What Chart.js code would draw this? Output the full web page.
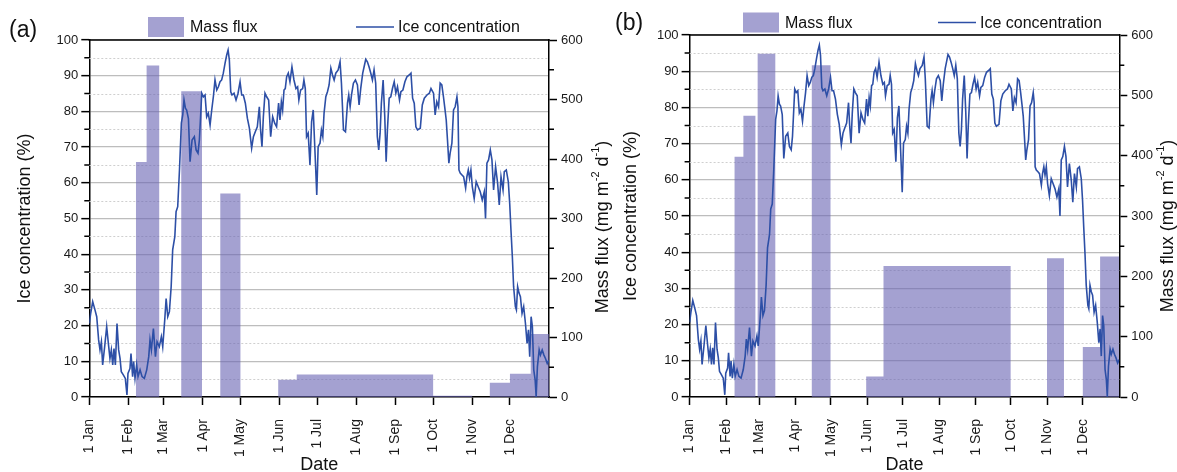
<!DOCTYPE html>
<html>
<head>
<meta charset="utf-8">
<script src="https://cdn.jsdelivr.net/npm/chart.js@4.4.0/dist/chart.umd.min.js"></script>
<style>
  html, body { margin: 0; padding: 0; background: #fff; }
  #wrap { position: relative; width: 1177px; height: 472px; overflow: hidden; background: #fff; }
  canvas { position: absolute; top: 0; }
  #chartA { left: 0; }
  #chartB { left: 600px; }
</style>
</head>
<body>
<div id="wrap">
  <canvas id="chartA" width="614" height="472"></canvas>
  <canvas id="chartB" width="577" height="472"></canvas>
</div>
<script>
// x axis is day of year, 0 = 1 Jan, 365 = end of Dec
const monthDays = [0, 31, 59, 90, 120, 151, 181, 212, 243, 273, 304, 334];
const monthLabels = ['1 Jan', '1 Feb', '1 Mar', '1 Apr', '1 May', '1 Jun',
  '1 Jul', '1 Aug', '1 Sep', '1 Oct', '1 Nov', '1 Dec'];
const iceMinor = [5, 15, 25, 35, 45, 55, 65, 75, 85, 95];
const fluxMinor = [50, 150, 250, 350, 450, 550];

// ice concentration (%) (same curve in both panels)
const iceDay = [0, 1.1, 2.7, 4.5, 5.9, 7.4, 8.5, 9.6, 10.6, 12.2, 13.8, 15.4, 16.4, 17.5, 18.6, 19.6, 20.7,
  22, 23.3, 24.4, 25.4, 27, 28.6, 29.9, 30.7, 32.3, 33.1, 34.4, 35.2, 36.3, 37.6, 38.7, 40.3, 41.9,
  43.7, 45.6, 47.2, 48.2, 49.3, 50.9, 52.5, 53.8, 55.6, 57.2, 58.3, 59.9, 61, 62.3, 63.6, 65, 66.2,
  67.9, 68.9, 70.2, 71.6, 73.1, 74.2, 75.2, 76.3, 77.3, 78.7, 80, 81.6, 83.4, 84.8, 86.3, 87.4,
  89.3, 90.6, 91.9, 93.2, 94.5, 95.9, 97.2, 98.5, 99.8, 101.2, 102.5, 103.8, 105.1, 106.4, 107.8,
  109.1, 110.2, 111.2, 112.3, 113.3, 114.9, 116.5, 118.1, 119.7, 121, 122.3, 123.9, 125.5, 127.1,
  128.9, 130.3, 131.8, 133.4, 135, 136, 137.1, 138.2, 139.5, 140.8, 142.4, 144, 145.6, 147.2, 148.7,
  150.3, 151.4, 152.5, 153.5, 154.6, 155.6, 156.7, 158, 159.3, 160.9, 162.5, 164.1, 165.4, 166.4,
  167.8, 169.4, 170.4, 171.5, 172.5, 173.8, 175.2, 176.5, 177.8,
  179.8, 180.6, 181.7, 183.2, 184.3, 185.4, 186.4, 187.8, 189.1, 190.4, 191.8, 193.1, 194.4, 195.7,
  197.6, 199.1, 200.2, 201.8, 203.4, 205, 206, 207.1, 208.2, 209.7, 211.3, 212.9, 214.2, 215.5,
  217.1, 218.2, 219.5, 220.8, 222.1, 223.5, 224.8, 226.1, 227.4, 228.7, 229.8, 230.9, 231.9, 233.3,
  234.6, 235.7, 236.7, 238.1, 239.4, 240.7, 242.1, 243.4, 244.7, 246.3, 247.4, 249, 250.6, 252.2,
  254, 255.4, 256.7, 258, 259.3, 260.6, 262.8, 264.4, 266, 268.1, 270, 271.3,
  273.3, 274.6, 275.9, 277.3, 278.6, 279.9, 281.2, 282.3, 283.4, 284.4, 285.5, 286.5, 287.9, 289.2,
  290.5, 291.9, 292.7, 293.5, 294.5, 295.9, 297.2, 298.8, 299.8, 300.9, 301.9, 303, 304.1, 305.6,
  307.2, 308.8, 310.4, 312, 313.6, 314.6, 315.7, 317, 318.4, 319.7, 321, 322.6, 324.2, 325.5, 326.9,
  328.5, 329.5, 331.1, 332.7, 333.8, 334.8, 335.9, 336.9, 338.3, 339.1, 340.1, 341.2, 342.3, 343.6,
  344.9, 346.3, 347.6, 348.7, 349.7, 350.8, 351.8, 352.9, 354, 354.8, 355.8, 357.2, 358.2, 359.6,
  360.9, 362.2, 363.6, 364.9];
const iceConc = [20.6, 23.4, 26.7, 24.4, 22.5, 16, 13.2, 15.5, 9, 14.1, 19.7, 14.1, 10.8, 13.2, 9, 13.6, 9,
  20.6, 13.2, 10.8, 7.1, 6.2, 5.2, 0.6, 6.6, 8, 12.2, 5.7, 9.9, 5.2, 9, 5.7, 7.6, 5.7,
  5.2, 7.6, 11.3, 16, 13.2, 19.2, 11.3, 15.5, 14.1, 16.9, 14.1, 21.6, 27.6, 22.5, 23.9, 30.9, 41.2,
  44.9, 51.9, 53.3, 63.6, 76.7, 79, 83.2, 80.9, 80.4, 78, 65.9, 72, 72.9, 69.2, 68.3, 72,
  85.1, 84.1, 84.6, 78.5, 79.5, 76.2, 80.4, 84.1, 88.8, 86, 86.9, 88.3, 88.8, 90.7, 93.5,
  95.8, 97.2, 94.4, 85.5, 84.6, 85.1, 83.2, 85.1, 88.3, 84.6, 84.6, 82.3, 78.1, 75.3,
  69.7, 72.9, 74.3, 75.7, 81.3, 74.8, 70.1, 78.5, 85.1, 84.1, 83.2, 72.9, 78.5, 76.7, 75.7,
  82.3, 77.6, 82.7, 80.4, 86, 86.4, 89.7, 90.7, 88.3, 92.5, 88.8, 86.4, 86.9, 83.2,
  86, 86.4, 88.8, 86.4, 72.9, 73.9, 65, 77.1, 80.4,
  63.6, 56.6, 70.1, 71.1, 74.8, 72.9, 79.5, 84.1, 85.5, 87.4, 92.1, 90.2, 88.8, 90.7,
  91.6, 93.9, 87.9, 74.8, 74.3, 82.3, 84.6, 81.3, 84.6, 87.9, 88.8, 87.4, 81.8, 86.4,
  90.7, 92.5, 94.6, 93.9, 92.5, 90.7, 88.8, 91.6, 87.9, 72.9, 69.2, 73.9, 82.3, 88.8,
  78.5, 65.9, 74.8, 83.7, 84.1, 86.4, 88.3, 85.1, 86.9, 83.2, 85.5, 86, 88.3, 89.7,
  90.2, 90.7, 83.7, 82.3, 75.7, 74.8, 75.3, 81.8, 83.7, 84.6, 85.1, 86.4,
  85.1, 79, 82.7, 81.3, 87.9, 87.4, 84.1, 80.9, 77.6, 72, 65.5, 68.3, 71.1, 80.4,
  81.3, 84.1, 81.3, 63.6, 62.7, 62.2, 61.7, 58.5, 61.7, 63.6, 61.3, 63.6, 58.9, 55.6,
  60.3, 58.9, 57.5, 55.2, 57.5, 50, 65.5, 66.4, 69.2, 66.4, 58, 64.5, 59.9, 53.8, 61.7,
  58, 63.1, 63.6, 60.3, 54.2, 46.8, 39.3, 30.9, 25.3, 24.4, 30.9, 29.1, 28.1, 23.4,
  25.3, 20.6, 15, 18.8, 11.3, 22.5, 19.7, 7.6, 4.8, 0.1, 8.5, 13.2, 11.8, 13.2,
  11.8, 10.8, 9.4, 10.3];

// mass flux (mg m-2 d-1) per trap interval, panel (a)
const fluxStartA = [37, 45.5, 73, 104, 150, 164.7, 273, 318, 334, 350.5];
const fluxEndA = [45.5, 55.5, 89.5, 120, 164.7, 273, 304, 334, 350.5, 365];
const fluxA = [395, 557, 514, 342, 29, 38, 2, 24, 39, 106];

// panel (b)
const fluxStartB = [38, 45.7, 57.8, 103.8, 150, 164.7, 303.6, 334, 348.7];
const fluxEndB = [45.7, 55.9, 72.8, 119.7, 164.7, 272.7, 318, 348.7, 365];
const fluxB = [398, 466, 569, 550, 34, 217, 230, 83, 233];

const FONT = '"Liberation Sans", Arial, Helvetica, sans-serif';
const barColor = 'rgba(103, 98, 178, 0.6)';
const lineColor = '#2d4fa6';

Chart.defaults.font.family = FONT;
Chart.defaults.color = '#1a1a1a';

// each interval becomes a closed rectangle in a filled line
function fluxPoints(starts, ends, values) {
  const pts = [];
  starts.forEach((s, i) => {
    pts.push({ x: s, y: 0 }, { x: s, y: values[i] }, { x: ends[i], y: values[i] }, { x: ends[i], y: 0 });
  });
  return pts;
}

function drawRightTitle(ctx, cx, cy) {
  const parts = [['Mass flux (mg m', 18, 0], ['-2', 11, -7], [' d', 18, 0], ['-1', 11, -7], [')', 18, 0]];
  ctx.save();
  ctx.translate(cx, cy);
  ctx.rotate(-Math.PI / 2);
  ctx.textBaseline = 'middle';
  ctx.fillStyle = '#111';
  let total = 0;
  parts.forEach(p => { ctx.font = p[1] + 'px ' + FONT; total += ctx.measureText(p[0]).width; });
  let x = -total / 2;
  parts.forEach(p => {
    ctx.font = p[1] + 'px ' + FONT;
    ctx.fillText(p[0], x, p[2]);
    x += ctx.measureText(p[0]).width;
  });
  ctx.restore();
}

// minor grid/ticks, top frame, right title, legend and panel letter
function decorPlugin(p) {
  return {
    id: 'decor',
    beforeDatasetsDraw(chart) {
      const { ctx, chartArea: a, scales } = chart;
      ctx.save();
      ctx.strokeStyle = '#cfcfcf';
      ctx.lineWidth = 1;
      ctx.setLineDash([2, 2]);
      iceMinor.forEach(v => {
        const py = Math.round(scales.y.getPixelForValue(v)) + 0.5;
        ctx.beginPath();
        ctx.moveTo(a.left, py);
        ctx.lineTo(a.right, py);
        ctx.stroke();
      });
      ctx.restore();
    },
    afterDraw(chart) {
      const { ctx, chartArea: a, scales } = chart;
      ctx.save();
      ctx.strokeStyle = '#000';
      ctx.lineWidth = 1.5;
      ctx.beginPath();
      iceMinor.forEach(v => {
        const py = scales.y.getPixelForValue(v);
        ctx.moveTo(a.left - 5, py);
        ctx.lineTo(a.left, py);
      });
      fluxMinor.forEach(v => {
        const py = scales.y2.getPixelForValue(v);
        ctx.moveTo(a.right, py);
        ctx.lineTo(a.right + 5, py);
      });
      ctx.moveTo(a.left - 0.75, a.top);
      ctx.lineTo(a.right + 0.75, a.top);
      ctx.stroke();

      drawRightTitle(ctx, p.rightTitleX, p.rightTitleY);

      // legend
      const L = p.legend;
      ctx.fillStyle = barColor;
      ctx.fillRect(L.boxX, L.y - 10, 36, 20);
      ctx.strokeStyle = lineColor;
      ctx.lineWidth = 1.6;
      ctx.beginPath();
      ctx.moveTo(L.lineX, L.y);
      ctx.lineTo(L.lineX + 38, L.y);
      ctx.stroke();
      ctx.fillStyle = '#111';
      ctx.font = '16px ' + FONT;
      ctx.textBaseline = 'middle';
      ctx.fillText('Mass flux', L.boxX + 42, L.y + 1);
      ctx.fillText('Ice concentration', L.lineX + 42, L.y + 1);

      ctx.font = '23px ' + FONT;
      ctx.textBaseline = 'alphabetic';
      ctx.fillText(p.letter, p.letterX, p.letterY);
      ctx.restore();
    }
  };
}

function makePanel(id, starts, ends, values, p) {
  const iceData = iceDay.map((d, i) => ({ x: d, y: iceConc[i] }));
  return new Chart(document.getElementById(id), {
    type: 'line',
    data: {
      datasets: [
        {
          label: 'Ice concentration',
          data: iceData,
          yAxisID: 'y',
          borderColor: lineColor,
          borderWidth: 1.6,
          pointRadius: 0,
          tension: 0,
          fill: false,
          order: 1
        },
        {
          label: 'Mass flux',
          data: fluxPoints(starts, ends, values),
          yAxisID: 'y2',
          borderWidth: 0,
          borderColor: 'rgba(0,0,0,0)',
          backgroundColor: barColor,
          pointRadius: 0,
          tension: 0,
          fill: 'origin',
          order: 2
        }
      ]
    },
    options: {
      responsive: false,
      animation: false,
      events: [],
      layout: { padding: { top: p.top, left: 0, right: 0, bottom: 0 } },
      plugins: { legend: { display: false }, tooltip: { enabled: false } },
      scales: {
        x: {
          type: 'linear',
          min: 0,
          max: 365,
          afterBuildTicks: s => { s.ticks = monthDays.map(v => ({ value: v })); },
          afterFit: s => { s.height = 75; },
          ticks: {
            autoSkip: false,
            minRotation: 90,
            maxRotation: 90,
            padding: 14,
            font: { size: 14 },
            color: '#1a1a1a',
            callback: v => monthLabels[monthDays.indexOf(v)]
          },
          grid: { drawOnChartArea: false, tickLength: 8, tickColor: '#000', tickWidth: 1.5 },
          border: { color: '#000', width: 1.5 },
          title: { display: true, text: 'Date', font: { size: 18, lineHeight: 0.8 }, padding: 0, color: '#111' }
        },
        y: {
          position: 'left',
          min: 0,
          max: 100,
          afterFit: s => { s.width = p.leftW; },
          ticks: { stepSize: 10, padding: 3, font: { size: 13 }, color: '#1a1a1a' },
          grid: { color: '#bdbdbd', lineWidth: 1.3, tickLength: 8, tickColor: '#000', tickWidth: 1.5 },
          border: { color: '#000', width: 1.5 },
          title: {
            display: true, text: 'Ice concentration (%)', font: { size: 18 },
            padding: { top: p.leftTitlePad, bottom: 0 }, color: '#111'
          }
        },
        y2: {
          position: 'right',
          min: 0,
          max: 600,
          afterFit: s => { s.width = p.rightW; },
          ticks: { stepSize: 100, padding: 4, font: { size: 13 }, color: '#1a1a1a' },
          grid: { drawOnChartArea: false, tickLength: 8, tickColor: '#000', tickWidth: 1.5 },
          border: { color: '#000', width: 1.5 }
        }
      }
    },
    plugins: [decorPlugin(p)]
  });
}

makePanel('chartA', fluxStartA, fluxEndA, fluxA, {
  top: 40, leftW: 89.3, rightW: 65, leftTitlePad: 14,
  rightTitleX: 603, rightTitleY: 227,
  legend: { boxX: 148, lineX: 356, y: 27 },
  letter: '(a)', letterX: 9, letterY: 37
});

makePanel('chartB', fluxStartB, fluxEndB, fluxB, {
  top: 35, leftW: 89.6, rightW: 57.7, leftTitlePad: 20,
  rightTitleX: 568, rightTitleY: 226,
  legend: { boxX: 143, lineX: 338, y: 22.5 },
  letter: '(b)', letterX: 15, letterY: 30
});
</script>
</body>
</html>
